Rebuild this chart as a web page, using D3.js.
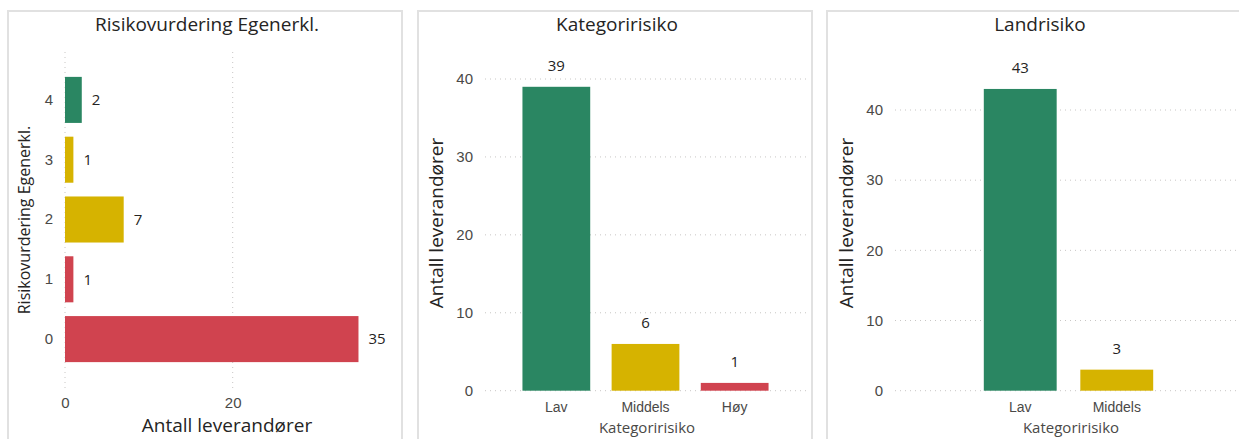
<!DOCTYPE html>
<html><head><meta charset="utf-8">
<script src="https://cdn.jsdelivr.net/npm/d3@7/dist/d3.min.js"></script>
<style>
body{margin:0;background:#fff;}
svg{display:block;font-family:"Open Sans","Noto Sans",sans-serif;}
</style></head><body>
<svg id="c" width="1239" height="439"></svg>
<script>
// Panel 1: Risikovurdering Egenerkl.
const riskLevels = ["4","3","2","1","0"];
const riskCounts = [2,1,7,1,35];
const riskColors = ["#2A8662","#D6B300","#D6B300","#D0434F","#D0434F"];
const riskTicks = [0,20];
// Panel 2: Kategoririsiko
const catLabels = ["Lav","Middels","Høy"];
const catCounts = [39,6,1];
const catColors = ["#2A8662","#D6B300","#D0434F"];
// Panel 3: Landrisiko
const landLabels = ["Lav","Middels"];
const landCounts = [43,3];
const landColors = ["#2A8662","#D6B300"];
const countTicks = [0,10,20,30,40];

const svg = d3.select("#c");
const titleCol = "#252423", tickCol = "#4A4947", gridCol = "#C8C6C4";
const numSize = 15, catSize = 14;

// panel borders
[[8,11,394,440],[418,11,394,440],[827,11,420,440]].forEach(([x,y,w,h])=>{
  svg.append("rect").attr("x",x).attr("y",y).attr("width",w).attr("height",h)
    .attr("fill","none").attr("stroke","#E1E1E1").attr("stroke-width",2);
});

function title(x,t){
  svg.append("text").attr("x",x).attr("y",31).attr("text-anchor","middle")
    .attr("font-size",19).attr("fill",titleCol).text(t);
}

// ---------- Panel 1 (horizontal bars)
{
  title(207,"Risikovurdering Egenerkl.");
  const x = d3.scaleLinear().domain([0,20]).range([65,232.7]);
  const y = d3.scaleBand().domain(riskLevels).range([70,369]).paddingInner(0.23).paddingOuter(0.115);
  const g = svg.append("g");
  riskTicks.forEach(t=>{
    g.append("line").attr("x1",x(t)).attr("x2",x(t)).attr("y1",52).attr("y2",390)
      .attr("stroke",gridCol).attr("stroke-dasharray","1,4");
  });
  const xa = g.append("g").attr("transform","translate(0,392)")
    .call(d3.axisBottom(x).tickValues(riskTicks).tickSize(0).tickPadding(5.5));
  xa.select(".domain").remove();
  xa.selectAll("text").attr("font-size",numSize).attr("fill",tickCol).attr("font-family","inherit");
  const ya = g.append("g").attr("transform","translate(53,0)")
    .call(d3.axisLeft(y).tickSize(0).tickPadding(0));
  ya.select(".domain").remove();
  ya.selectAll("text").attr("font-size",numSize).attr("fill",tickCol).attr("font-family","inherit");
  g.selectAll(".bar").data(riskLevels).enter().append("rect")
    .attr("x",x(0)).attr("y",d=>y(d)).attr("height",y.bandwidth())
    .attr("width",(d,i)=>x(riskCounts[i])-x(0)).attr("fill",(d,i)=>riskColors[i]);
  g.selectAll(".lbl").data(riskLevels).enter().append("text")
    .attr("x",(d,i)=>x(riskCounts[i])+10).attr("y",d=>y(d)+y.bandwidth()/2).attr("dy","0.35em")
    .attr("font-size",numSize).attr("fill",titleCol).text((d,i)=>riskCounts[i]);
  svg.append("text").attr("x",227).attr("y",432).attr("text-anchor","middle")
    .attr("font-size",19).attr("fill",titleCol).text("Antall leverandører");
  svg.append("text").attr("transform","translate(30,220) rotate(-90)").attr("text-anchor","middle")
    .attr("font-size",16).attr("fill",titleCol).text("Risikovurdering Egenerkl.");
}

// ---------- vertical bar panels
function vpanel(opts){
  const {labels,counts,colors,xr,pi,po,y40,tickX,gridX,titleX,titleText,xTitleX,yTitleX} = opts;
  title(titleX,titleText);
  const y = d3.scaleLinear().domain([0,40]).range([390.7,y40]);
  const x = d3.scaleBand().domain(labels).range(xr).paddingInner(pi).paddingOuter(po);
  const g = svg.append("g");
  countTicks.forEach(t=>{
    g.append("line").attr("x1",gridX[0]).attr("x2",gridX[1]).attr("y1",y(t)).attr("y2",y(t))
      .attr("stroke",gridCol).attr("stroke-dasharray","1,4");
  });
  const ya = g.append("g").attr("transform",`translate(${tickX},0)`)
    .call(d3.axisLeft(y).tickValues(countTicks).tickSize(0).tickPadding(0));
  ya.select(".domain").remove();
  ya.selectAll("text").attr("font-size",numSize).attr("fill",tickCol).attr("font-family","inherit");
  const xa = g.append("g").attr("transform","translate(0,393)")
    .call(d3.axisBottom(x).tickSize(0).tickPadding(9));
  xa.select(".domain").remove();
  xa.selectAll("text").attr("font-size",catSize).attr("fill",tickCol).attr("font-family","inherit");
  g.selectAll(".bar").data(labels).enter().append("rect")
    .attr("x",d=>x(d)).attr("width",x.bandwidth())
    .attr("y",(d,i)=>y(counts[i])).attr("height",(d,i)=>y(0)-y(counts[i]))
    .attr("fill",(d,i)=>colors[i]);
  g.selectAll(".lbl").data(labels).enter().append("text")
    .attr("x",d=>x(d)+x.bandwidth()/2).attr("y",(d,i)=>y(counts[i])-16)
    .attr("text-anchor","middle").attr("font-size",numSize).attr("fill",titleCol).text((d,i)=>counts[i]);
  svg.append("text").attr("x",xTitleX).attr("y",433).attr("text-anchor","middle")
    .attr("font-size",15).attr("fill",tickCol).text("Kategoririsiko");
  svg.append("text").attr("transform",`translate(${yTitleX},223) rotate(-90)`).attr("text-anchor","middle")
    .attr("font-size",19).attr("fill",titleCol).text("Antall leverandører");
}

vpanel({labels:catLabels,counts:catCounts,colors:catColors,xr:[485,806],pi:0.24,po:0.42,
  y40:79,tickX:473,gridX:[485,808],titleX:617,titleText:"Kategoririsiko",xTitleX:647,yTitleX:443});
vpanel({labels:landLabels,counts:landCounts,colors:landColors,xr:[895,1242],pi:0.245,po:0.92,
  y40:110,tickX:883,gridX:[895,1239],titleX:1040,titleText:"Landrisiko",xTitleX:1071,yTitleX:853});
</script></body></html>
